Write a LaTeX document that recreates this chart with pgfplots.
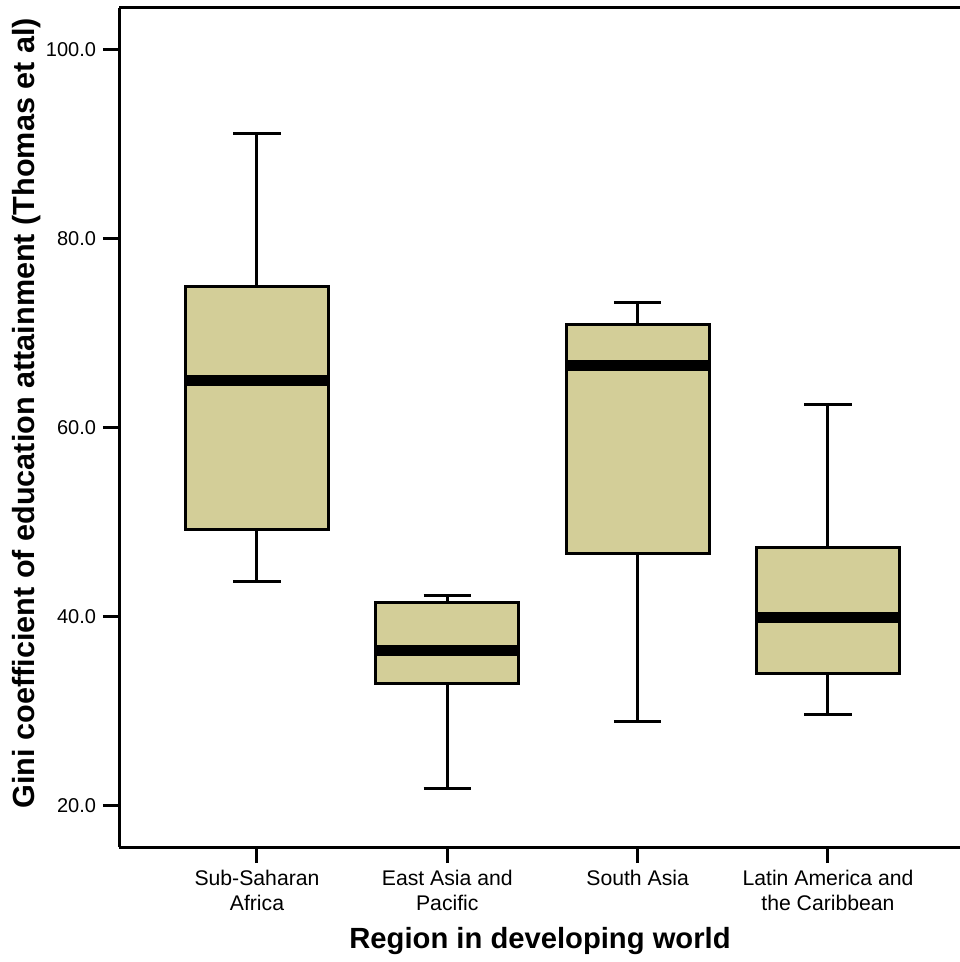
\documentclass[border=0pt]{standalone}
\usepackage{fontspec}
\setmainfont{Liberation Sans}
\usepackage{pgfplots}
\pgfplotsset{compat=1.18}

\definecolor{boxfill}{RGB}{211,206,152}

\begin{document}
\begin{tikzpicture}
\begin{axis}[
  scale only axis,
  width=421bp, height=419.5bp,
  xmin=0.275, xmax=4.699,
  ymin=15.66, ymax=104.44,
  axis lines=left,
  axis line style={-, line width=1.5bp, black},
  tick align=outside,
  major tick length=8bp,
  tick style={line width=1.5bp, black},
  xtick={1,2,3,4},
  xticklabels={{Sub-Saharan\\Africa},{East Asia and\\Pacific},{South Asia},{Latin America and\\the Caribbean}},
  xticklabel style={align=center, font=\fontsize{10.6bp}{12.5bp}\selectfont},
  ytick={20,40,60,80,100},
  yticklabel style={font=\fontsize{10bp}{12bp}\selectfont,
    /pgf/number format/.cd, fixed, fixed zerofill, precision=1, assume math mode=true},
  xlabel={Region in developing world},
  ylabel={Gini coefficient of education attainment (Thomas et al)},
  xlabel style={at={(axis description cs:0.5,-0.112)}, anchor=center,
    font=\fontsize{14.6bp}{17bp}\selectfont\bfseries},
  ylabel style={at={(axis description cs:-0.110,0.517)}, anchor=center,
    font=\fontsize{15.3bp}{18bp}\selectfont\bfseries},
  clip=false,
  whisk/.style={black, line width=1.5bp, mark=none},
  qbox/.style={draw=black, fill=boxfill, line width=1.5bp, mark=none},
  med/.style={black, line width=5.5bp, mark=none},
]
% ---- Sub-Saharan Africa: 43.8 / 49.3 / 65.0 / 75.0 / 91.2
\addplot[whisk] coordinates {(1,75.0) (1,91.2)};
\addplot[whisk] coordinates {(0.875,91.2) (1.125,91.2)};
\addplot[whisk] coordinates {(1,43.8) (1,49.3)};
\addplot[whisk] coordinates {(0.875,43.8) (1.125,43.8)};
\addplot[qbox] coordinates {(0.625,49.3) (1.375,49.3) (1.375,75.0) (0.625,75.0)} -- cycle;
\addplot[med] coordinates {(0.625,65.0) (1.375,65.0)};
% ---- East Asia and Pacific: 21.9 / 33.0 / 36.4 / 41.5 / 42.3
\addplot[whisk] coordinates {(2,41.5) (2,42.3)};
\addplot[whisk] coordinates {(1.875,42.3) (2.125,42.3)};
\addplot[whisk] coordinates {(2,21.9) (2,33.0)};
\addplot[whisk] coordinates {(1.875,21.9) (2.125,21.9)};
\addplot[qbox] coordinates {(1.625,33.0) (2.375,33.0) (2.375,41.5) (1.625,41.5)} -- cycle;
\addplot[med] coordinates {(1.625,36.4) (2.375,36.4)};
% ---- South Asia: 28.9 / 46.7 / 66.6 / 71.0 / 73.3
\addplot[whisk] coordinates {(3,71.0) (3,73.3)};
\addplot[whisk] coordinates {(2.875,73.3) (3.125,73.3)};
\addplot[whisk] coordinates {(3,28.9) (3,46.7)};
\addplot[whisk] coordinates {(2.875,28.9) (3.125,28.9)};
\addplot[qbox] coordinates {(2.625,46.7) (3.375,46.7) (3.375,71.0) (2.625,71.0)} -- cycle;
\addplot[med] coordinates {(2.625,66.6) (3.375,66.6)};
% ---- Latin America and the Caribbean: 29.7 / 34.0 / 39.9 / 47.3 / 62.5
\addplot[whisk] coordinates {(4,47.3) (4,62.5)};
\addplot[whisk] coordinates {(3.875,62.5) (4.125,62.5)};
\addplot[whisk] coordinates {(4,29.7) (4,34.0)};
\addplot[whisk] coordinates {(3.875,29.7) (4.125,29.7)};
\addplot[qbox] coordinates {(3.625,34.0) (4.375,34.0) (4.375,47.3) (3.625,47.3)} -- cycle;
\addplot[med] coordinates {(3.625,39.9) (4.375,39.9)};
% top edge of the frame
\draw[line width=1.5bp, black] (rel axis cs:0,1) -- (rel axis cs:1,1);
\end{axis}
\pgfresetboundingbox
\path[use as bounding box] (-59.5bp,-57.5bp) rectangle (420.5bp,423.5bp);
\end{tikzpicture}
\end{document}
